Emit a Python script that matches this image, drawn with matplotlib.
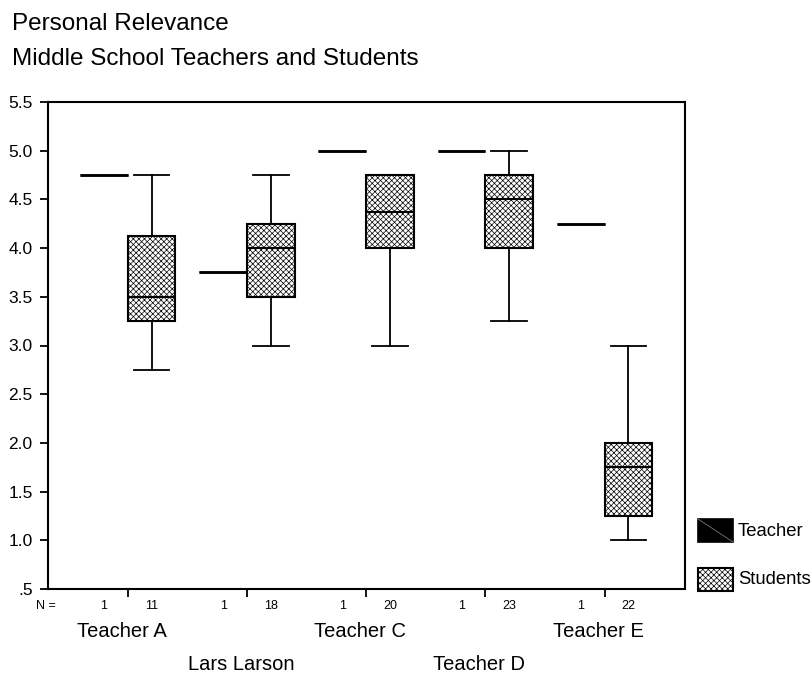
import matplotlib
matplotlib.use('Agg')
import matplotlib.pyplot as plt
from matplotlib.patches import Rectangle
from matplotlib.lines import Line2D

# fonts - Liberation Sans looks like the Helvetica of the original
plt.rcParams['font.family'] = ['Liberation Sans', 'DejaVu Sans']
plt.rcParams['hatch.linewidth'] = 0.5
plt.rcParams['hatch.color'] = 'black'

# data
groups = ['Teacher A', 'Lars Larson', 'Teacher C', 'Teacher D', 'Teacher E']
teacher_score = [4.75, 3.75, 5.0, 5.0, 4.25]
teacher_n = [1, 1, 1, 1, 1]
student_n = [11, 18, 20, 23, 22]
student_low = [2.75, 3.0, 3.0, 3.25, 1.0]
student_q1 = [3.25, 3.5, 4.0, 4.0, 1.25]
student_med = [3.5, 4.0, 4.375, 4.5, 1.75]
student_q3 = [4.125, 4.25, 4.75, 4.75, 2.0]
student_high = [4.75, 4.75, 4.75, 5.0, 3.0]
y_ticks = [0.5, 1.0, 1.5, 2.0, 2.5, 3.0, 3.5, 4.0, 4.5, 5.0, 5.5]

HATCH = 'xxxxxx'

W, H = 812, 674
fig = plt.figure(figsize=(W / 100, H / 100), dpi=100)
ax = fig.add_axes([48 / W, 85 / H, 637 / W, 487 / H])

pos = list(range(1, len(groups) + 1))
teacher_pos = [p - 0.2 for p in pos]
student_pos = [p + 0.2 for p in pos]

# teachers have only one score, so their box is just a flat line
teacher_stats = []
for g, v in zip(groups, teacher_score):
    teacher_stats.append({'label': g, 'whislo': v, 'q1': v, 'med': v,
                          'q3': v, 'whishi': v, 'fliers': []})

student_stats = []
for i, g in enumerate(groups):
    student_stats.append({'label': g, 'whislo': student_low[i], 'q1': student_q1[i],
                          'med': student_med[i], 'q3': student_q3[i],
                          'whishi': student_high[i], 'fliers': []})

ax.bxp(teacher_stats, positions=teacher_pos, widths=0.4, patch_artist=True,
       showfliers=False, showcaps=False, manage_ticks=False,
       boxprops=dict(facecolor='black', edgecolor='black', linewidth=1.8),
       medianprops=dict(color='black', linewidth=1.8),
       whiskerprops=dict(color='black', linewidth=1.3))

ax.bxp(student_stats, positions=student_pos, widths=0.4, capwidths=0.3,
       patch_artist=True, showfliers=False, manage_ticks=False,
       boxprops=dict(facecolor='white', edgecolor='black', hatch=HATCH, linewidth=1.5),
       medianprops=dict(color='black', linewidth=1.5),
       whiskerprops=dict(color='black', linewidth=1.3),
       capprops=dict(color='black', linewidth=1.3))

# axes
ax.set_xlim(0.331, 5.675)
ax.set_ylim(0.5, 5.5)
ax.set_yticks(y_ticks)
ax.set_yticklabels(['.5' if t == 0.5 else '%.1f' % t for t in y_ticks], fontsize=12.5)
ax.set_xticks(pos)
ax.set_xticklabels([])
ax.tick_params(axis='both', direction='out', length=6, width=1.3, color='black')
ax.tick_params(axis='y', pad=5)
for s in ax.spines.values():
    s.set_linewidth(1.5)

# N = row under the axis
xt = ax.get_xaxis_transform()
ax.text(0.40, -0.035, 'N =', transform=xt, ha='right', va='center', fontsize=9)
for i in range(len(groups)):
    ax.text(teacher_pos[i], -0.035, str(teacher_n[i]), transform=xt,
            ha='center', va='center', fontsize=9)
    ax.text(student_pos[i], -0.035, str(student_n[i]), transform=xt,
            ha='center', va='center', fontsize=9)

# group names, staggered on two rows
for i, g in enumerate(groups):
    y = -0.088 if i % 2 == 0 else -0.156
    ax.text(pos[i] - 0.05, y, g, transform=xt, ha='center', va='center', fontsize=14.5)

# title lines
fig.text(12 / W, 1 - 30 / H, 'Personal Relevance', fontsize=17.5, va='baseline')
fig.text(12 / W, 1 - 65 / H, 'Middle School Teachers and Students', fontsize=17.5, va='baseline')

# legend drawn by hand on the right side
fig.add_artist(Rectangle((698 / W, 1 - 542 / H), 35 / W, 23 / H, facecolor='black',
                         edgecolor='black', linewidth=1.2, transform=fig.transFigure))
fig.add_artist(Line2D([698 / W, 733 / W], [1 - 519 / H, 1 - 542 / H], color='#777777',
                      linewidth=0.6, transform=fig.transFigure))
fig.add_artist(Rectangle((698 / W, 1 - 591 / H), 35 / W, 23 / H, facecolor='white',
                         edgecolor='black', hatch=HATCH, linewidth=1.5,
                         transform=fig.transFigure))
fig.text(738 / W, 1 - 531 / H, 'Teacher', fontsize=13.3, va='center')
fig.text(738 / W, 1 - 580 / H, 'Students', fontsize=13.3, va='center')

fig.savefig('out.png', dpi=100)
